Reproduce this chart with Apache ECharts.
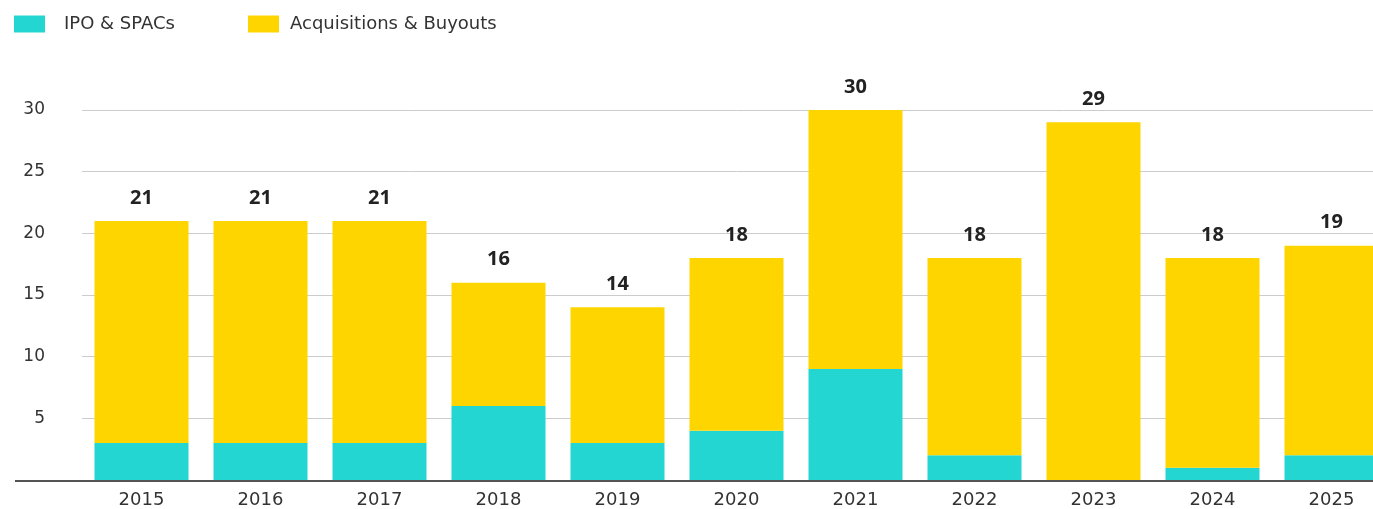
<!DOCTYPE html>
<html>
<head>
<meta charset="utf-8">
<script src="https://cdn.jsdelivr.net/npm/echarts@6/dist/echarts.min.js"></script>
<style>
  html, body { margin: 0; padding: 0; background: #fff; overflow: hidden; }
  #chart { width: 1391px; height: 509px; }
</style>
</head>
<body>
<div id="chart"></div>
<script>
// data
var years = ['2015', '2016', '2017', '2018', '2019', '2020', '2021', '2022', '2023', '2024', '2025'];
var ipoSpacs = [3, 3, 3, 6, 3, 4, 9, 2, 0, 1, 2];
var acquisitions = [18, 18, 18, 10, 11, 14, 21, 16, 29, 17, 17];
var yTicks = [0, 5, 10, 15, 20, 25, 30];

var totals = [];
for (var i = 0; i < years.length; i++) {
    totals.push(ipoSpacs[i] + acquisitions[i]);
}

var font = 'DejaVu Sans';
// the original is cropped on the right, so the canvas runs a bit past the window
var myChart = echarts.init(document.getElementById('chart'));

var legendBase = {
    orient: 'horizontal',
    top: 15,
    padding: 0,
    itemWidth: 31,
    itemHeight: 17,
    icon: 'rect',
    textStyle: { fontFamily: font, fontSize: 18, color: '#333' }
};

var option = {
    animation: false,
    legend: [
        Object.assign({}, legendBase, { left: 14, data: ['IPO & SPACs'],
            textStyle: Object.assign({}, legendBase.textStyle, { padding: [2, 0, 0, 14] }) }),
        Object.assign({}, legendBase, { left: 248, data: ['Acquisitions & Buyouts'],
            textStyle: Object.assign({}, legendBase.textStyle, { padding: [2, 0, 0, 6] }) })
    ],
    grid: { left: 82, top: 110, right: 0, bottom: 28, containLabel: false },
    xAxis: {
        type: 'category',
        data: years,
        axisTick: { show: false },
        axisLine: { show: false },
        axisLabel: { fontFamily: font, fontSize: 18, color: '#333', margin: 11 }
    },
    yAxis: {
        type: 'value',
        min: yTicks[0],
        max: yTicks[yTicks.length - 1],
        interval: 5,
        axisLine: { show: false },
        axisTick: { show: false },
        splitLine: { lineStyle: { color: '#cccccc', width: 1 } },
        axisLabel: {
            fontFamily: font, fontSize: 17, color: '#333', margin: 37,
            padding: [7, 0, 0, 0],
            formatter: function (v) { return v === 0 ? '' : v; }
        }
    },
    graphic: [{
        // baseline runs out to the left edge in the original
        type: 'line',
        z: 10,
        shape: { x1: 15, y1: 481, x2: 1391, y2: 481 },
        style: { stroke: '#555', lineWidth: 2 }
    }],
    series: [
        {
            name: 'IPO & SPACs',
            type: 'bar',
            stack: 'total',
            barWidth: 94,
            itemStyle: { color: '#24d6d2' },
            data: ipoSpacs
        },
        {
            name: 'Acquisitions & Buyouts',
            type: 'bar',
            stack: 'total',
            barWidth: 94,
            itemStyle: { color: '#ffd500' },
            label: {
                show: true,
                position: 'top',
                distance: 13,
                fontFamily: 'Noto Sans',
                fontSize: 20,
                fontWeight: 'bold',
                color: '#222',
                formatter: function (p) { return totals[p.dataIndex]; }
            },
            data: acquisitions
        }
    ]
};

myChart.setOption(option);
</script>
</body>
</html>
